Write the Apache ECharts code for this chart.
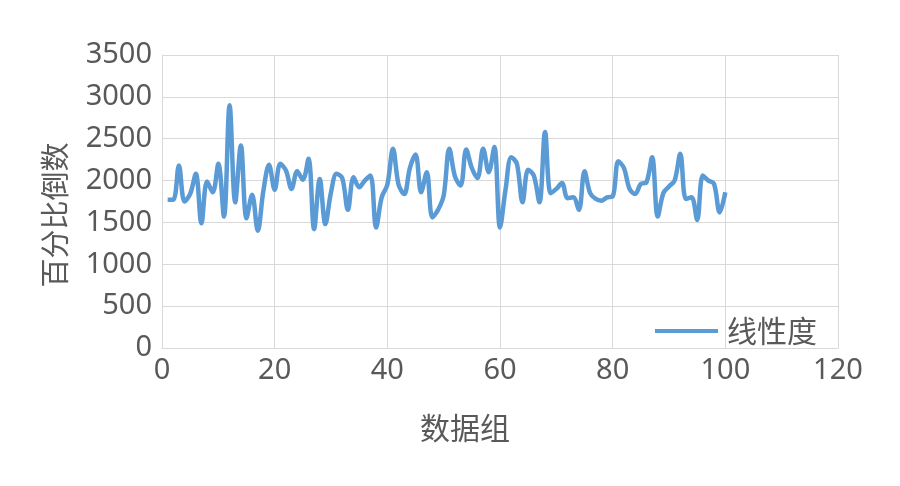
<!DOCTYPE html>
<html>
<head>
<meta charset="utf-8">
<script src="https://cdn.jsdelivr.net/npm/echarts@6/dist/echarts.min.js"></script>
<style>
html,body{margin:0;padding:0;background:#fff;}
#chart{width:900px;height:486px;}
</style>
</head>
<body>
<div id="chart"></div>
<script>
const seriesName = '线性度';
const xAxisTitle = '数据组';
const yAxisTitle = '百分比倒数';
const xTicks = [0, 20, 40, 60, 80, 100, 120];
const yTicks = [0, 500, 1000, 1500, 2000, 2500, 3000, 3500];
// values for data groups 1..100
const linearity = [
  1770, 1770, 2180, 1750, 1840, 2080, 1490, 1990, 1860, 2200,
  1570, 2900, 1740, 2420, 1550, 1830, 1400, 1880, 2190, 1890,
  2200, 2120, 1900, 2110, 2010, 2260, 1420, 2020, 1480, 1860,
  2080, 2030, 1650, 2040, 1920, 2000, 2060, 1440, 1800, 1950,
  2380, 1950, 1840, 2150, 2310, 1860, 2100, 1560, 1650, 1820,
  2380, 2050, 1940, 2370, 2150, 2030, 2380, 2100, 2400, 1440,
  1900, 2280, 2200, 1740, 2130, 2060, 1740, 2580, 1850, 1900,
  1970, 1790, 1800, 1650, 2110, 1850, 1780, 1760, 1800, 1810,
  2230, 2150, 1900, 1840, 1960, 1980, 2280, 1570, 1850, 1930,
  2000, 2320, 1780, 1800, 1530, 2060, 2000, 1960, 1620, 1860
];

const chart = echarts.init(document.getElementById('chart'), null, {renderer: 'canvas'});
const numFont = '"Noto Sans", "Noto Sans CJK SC", sans-serif';
const cjkFont = '"Noto Sans CJK SC", "Noto Sans", sans-serif';
const labelColor = '#595959';
const gridColor = '#d9d9d9';
const lineColor = '#5b9bd5';

chart.setOption({
  animation: false,
  backgroundColor: '#ffffff',
  grid: {left: 162, right: 62, top: 55, bottom: 138, containLabel: false},
  xAxis: {
    type: 'value',
    min: xTicks[0],
    max: xTicks[xTicks.length - 1],
    interval: xTicks[1] - xTicks[0],
    axisLine: {show: true, lineStyle: {color: gridColor, width: 1}},
    axisTick: {show: false},
    splitLine: {show: true, lineStyle: {color: gridColor, width: 1}},
    axisLabel: {color: labelColor, fontSize: 29, fontFamily: numFont, margin: 8, formatter: v => String(v)}
  },
  yAxis: {
    type: 'value',
    min: yTicks[0],
    max: yTicks[yTicks.length - 1],
    interval: yTicks[1] - yTicks[0],
    axisLine: {show: true, lineStyle: {color: gridColor, width: 1}},
    axisTick: {show: false},
    splitLine: {show: true, lineStyle: {color: gridColor, width: 1}},
    axisLabel: {color: labelColor, fontSize: 29, fontFamily: numFont, margin: 10, formatter: v => String(v)}
  },
  legend: {
    show: true,
    left: 655,
    top: 316,
    padding: 0,
    itemWidth: 63,
    itemHeight: 14,
    itemStyle: {color: lineColor},
    textStyle: {color: labelColor, fontSize: 30, fontFamily: cjkFont, padding: [0, 0, 0, 4]},
    data: [{name: seriesName, icon: 'path://M0,6 L63,6 L63,10 L0,10 Z'}]
  },
  graphic: [
    {
      type: 'text',
      x: 55, y: 215,
      rotation: Math.PI / 2,
      style: {text: yAxisTitle, fill: labelColor, fontSize: 29, fontFamily: cjkFont, align: 'center', verticalAlign: 'middle'}
    },
    {
      type: 'text',
      x: 465, y: 428,
      style: {text: xAxisTitle, fill: labelColor, fontSize: 30, fontFamily: cjkFont, align: 'center', verticalAlign: 'middle'}
    }
  ],
  series: [{
    name: seriesName,
    type: 'line',
    smooth: 0.35,
    symbol: 'none',
    lineStyle: {color: lineColor, width: 4.5},
    itemStyle: {color: lineColor},
    data: linearity.map((v, i) => [i + 1, v])
  }]
});
</script>
</body>
</html>
